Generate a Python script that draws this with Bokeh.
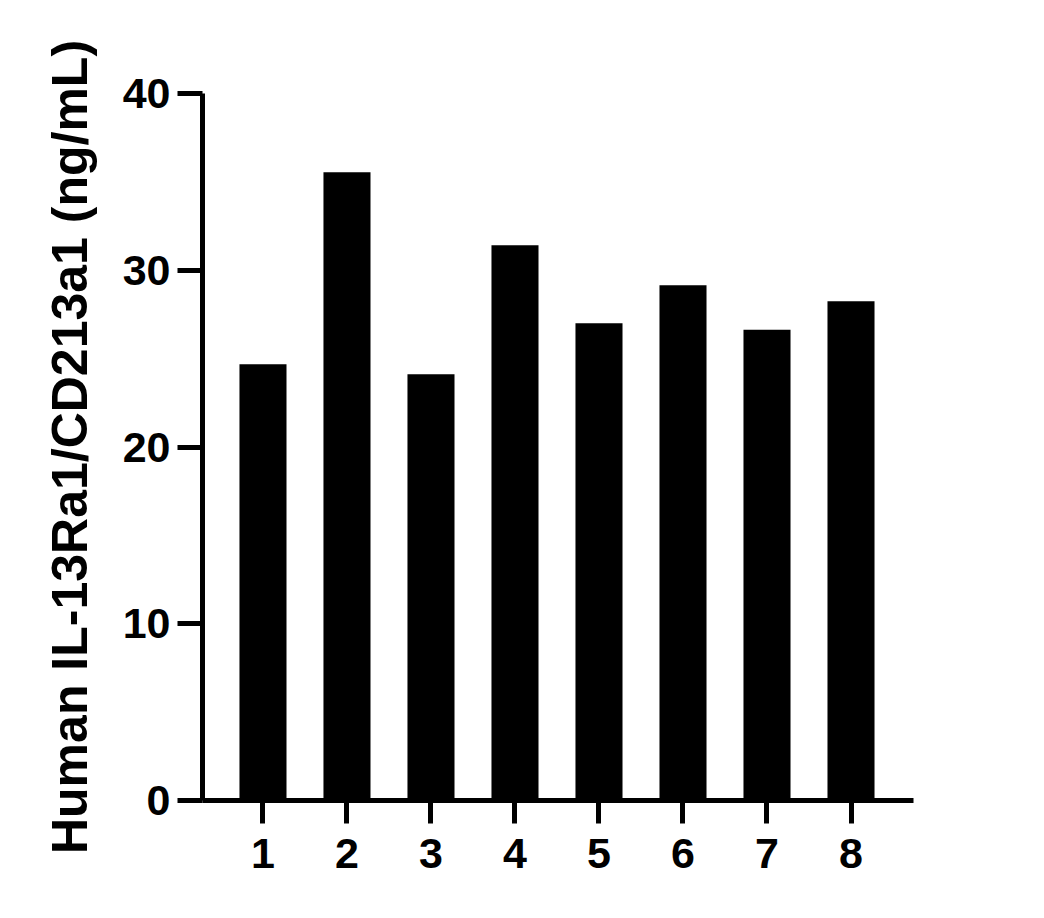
from bokeh.plotting import figure
from bokeh.models import Range1d, FixedTicker
from bokeh.embed import file_html
from bokeh.resources import INLINE

# Data
samples = [1, 2, 3, 4, 5, 6, 7, 8]
concentration = [24.68, 35.54, 24.11, 31.41, 27.00, 29.15, 26.64, 28.24]
y_ticks = [0, 10, 20, 30, 40]
y_label = "Human IL-13Ra1/CD213a1 (ng/mL)"

FONT = "Liberation Sans"

p = figure(
    width=1020, height=890,
    output_backend="svg", toolbar_location=None,
    x_range=Range1d(0.28, 8.744), y_range=Range1d(0, 40),
    min_border_left=202, min_border_top=93,
    min_border_right=107, min_border_bottom=90,
)

p.vbar(x=samples, top=concentration, width=0.56, bottom=0,
       fill_color="black", line_color="black", line_width=0)

p.outline_line_color = None
p.grid.visible = False
p.background_fill_color = "white"
p.border_fill_color = "white"

# Y axis
ya = p.yaxis[0]
ya.ticker = FixedTicker(ticks=y_ticks)
ya.axis_line_width = 5
ya.axis_line_color = "black"
ya.major_tick_line_width = 5
ya.major_tick_line_color = "black"
ya.major_tick_in = 0
ya.major_tick_out = 25
ya.minor_tick_line_color = None
ya.major_label_text_font = FONT
ya.major_label_text_font_style = "bold"
ya.major_label_text_font_size = "43px"
ya.major_label_text_color = "black"
ya.major_label_standoff = 7
ya.axis_label = y_label
ya.axis_label_text_font = FONT
ya.axis_label_text_font_style = "bold"
ya.axis_label_text_font_size = "50px"
ya.axis_label_text_color = "black"
ya.axis_label_standoff = 22

# X axis
xa = p.xaxis[0]
xa.ticker = FixedTicker(ticks=samples)
xa.axis_line_width = 5
xa.axis_line_color = "black"
xa.major_tick_line_width = 5
xa.major_tick_line_color = "black"
xa.major_tick_in = 0
xa.major_tick_out = 23
xa.minor_tick_line_color = None
xa.major_label_text_font = FONT
xa.major_label_text_font_style = "bold"
xa.major_label_text_font_size = "43px"
xa.major_label_text_color = "black"
xa.major_label_standoff = 15

open("out.html", "w").write(file_html(p, INLINE))
